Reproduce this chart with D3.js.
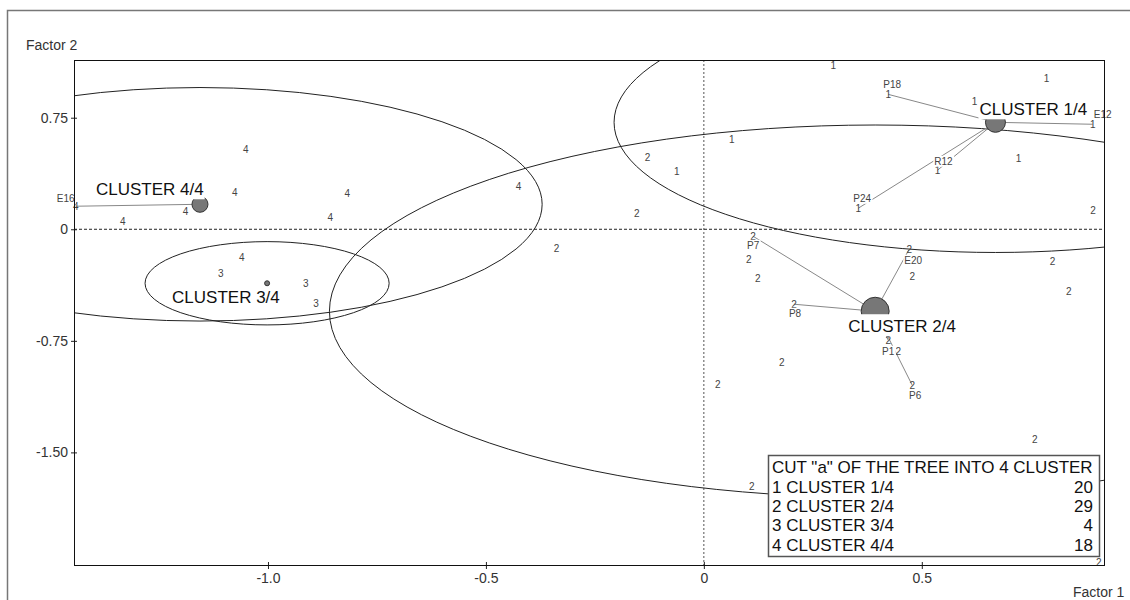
<!DOCTYPE html>
<html>
<head>
<meta charset="utf-8">
<script src="https://cdn.jsdelivr.net/npm/d3@7"></script>
<style>
  body { margin: 0; background: #fff; }
  text { font-family: "Liberation Sans", Arial, sans-serif; }
</style>
</head>
<body>
<div id="chart"></div>
<script>
// Define SVG area dimensions
var svgWidth = 1130;
var svgHeight = 600;

// chart margins
var margin = { top: 60, right: 26, bottom: 35, left: 74 };

var chartWidth = svgWidth - margin.left - margin.right;
var chartHeight = svgHeight - margin.top - margin.bottom;

// cluster data
var clusterIds = [1, 2, 3, 4];
var clusterNames = ["CLUSTER 1/4", "CLUSTER 2/4", "CLUSTER 3/4", "CLUSTER 4/4"];
var clusterCounts = [20, 29, 4, 18];
var clusterF1 = [0.669, 0.393, -1.002, -1.156];
var clusterF2 = [0.719, -0.551, -0.363, 0.168];
var clusterRadius = [0.875, 1.252, 0.28, 0.785];

// individual points (factor 1, factor 2, cluster, name)
var pointF1 = [0.297, 0.423, 0.621, 0.786, 0.892, 0.064, -0.062, 0.722, 0.536, 0.354,
    -0.129, -0.154, -0.338, 0.893, 0.113, 0.471, 0.103, 0.800, 0.124, 0.478,
    0.837, 0.207, 0.423, 0.446, 0.478, 0.179, 0.032, 0.759, 0.110, 0.906,
    -1.108, -0.913, -0.890,
    -1.051, -1.076, -0.818, -1.189, -1.333, -0.857, -0.425, -1.060, -1.441];
var pointF2 = [1.102, 0.907, 0.860, 1.015, 0.706, 0.605, 0.390, 0.477, 0.397, 0.141,
    0.484, 0.108, -0.128, 0.128, -0.047, -0.134, -0.202, -0.215, -0.329, -0.316,
    -0.417, -0.504, -0.746, -0.820, -1.048, -0.894, -1.042, -1.411, -1.727, -2.238,
    -0.296, -0.363, -0.497,
    0.538, 0.249, 0.242, 0.121, 0.054, 0.081, 0.289, -0.188, 0.155];
var pointCluster = [1, 1, 1, 1, 1, 1, 1, 1, 1, 1,
    2, 2, 2, 2, 2, 2, 2, 2, 2, 2,
    2, 2, 2, 2, 2, 2, 2, 2, 2, 2,
    3, 3, 3,
    4, 4, 4, 4, 4, 4, 4, 4, 4];
var pointName = ["", "P18", "", "", "E12", "", "", "", "R12", "P24",
    "", "", "", "", "P7", "E20", "", "", "", "",
    "", "P8", "P1", "", "P6", "", "", "", "", "",
    "", "", "",
    "", "", "", "", "", "", "", "", "E16"];

var xTickValues = [-1.0, -0.5, 0, 0.5];
var xTickLabels = ["-1.0", "-0.5", "0", "0.5"];
var yTickValues = [0.75, 0, -0.75, -1.5];
var yTickLabels = ["0.75", "0", "-0.75", "-1.50"];

var legendTitle = 'CUT "a" OF THE TREE INTO 4 CLUSTER';

// layout for labels (pixel offsets)
var nameOffset = {
    P18: [4, -10], E12: [10, -10], R12: [6, -9], P24: [4, -10], E16: [-10, -8],
    P7: [0, 9], E20: [4, 11], P8: [1, 9], P1: [0, 11], P6: [3, 10]
};
var markerSize = [10, 14, 2.5, 8];
var clusterLabelOffset = [[-16, -7], [-27, 21], [-95, 20], [-104, -9]];
var clusterLabelPadTop = [0, 4, 0, 0];

var points = pointF1.map(function (d, i) {
    return { f1: d, f2: pointF2[i], cluster: pointCluster[i], name: pointName[i] };
});
var clusters = clusterIds.map(function (id, i) {
    return { id: id, name: clusterNames[i], count: clusterCounts[i],
        f1: clusterF1[i], f2: clusterF2[i], r: clusterRadius[i] };
});

var svg = d3.select("#chart")
    .append("svg")
    .attr("width", svgWidth)
    .attr("height", svgHeight);

// outer frame
svg.append("rect")
    .attr("x", 7.5).attr("y", 10.5)
    .attr("width", 1200).attr("height", 700)
    .attr("fill", "none")
    .attr("stroke", "#777")
    .attr("stroke-width", 1.5);

var chartGroup = svg.append("g")
    .attr("transform", `translate(${margin.left}, ${margin.top})`);

var xScale = d3.scaleLinear().domain([-1.445, 0.918]).range([0, chartWidth]);
var yScale = d3.scaleLinear().domain([1.138, -2.257]).range([0, chartHeight]);

chartGroup.append("clipPath")
    .attr("id", "plotClip")
    .append("rect")
    .attr("width", chartWidth)
    .attr("height", chartHeight);

// zero lines
chartGroup.append("line")
    .attr("x1", xScale(0)).attr("x2", xScale(0))
    .attr("y1", 0).attr("y2", chartHeight)
    .attr("stroke", "#555")
    .attr("stroke-dasharray", "2,2");
chartGroup.append("line")
    .attr("x1", 0).attr("x2", chartWidth)
    .attr("y1", yScale(0)).attr("y2", yScale(0))
    .attr("stroke", "#222")
    .attr("stroke-dasharray", "3,2");

// cluster ellipses
chartGroup.append("g")
    .attr("clip-path", "url(#plotClip)")
    .selectAll("ellipse")
    .data(clusters)
    .enter()
    .append("ellipse")
    .attr("cx", d => xScale(d.f1))
    .attr("cy", d => yScale(d.f2))
    .attr("rx", d => xScale(d.f1 + d.r) - xScale(d.f1))
    .attr("ry", d => yScale(d.f2 - d.r) - yScale(d.f2))
    .attr("fill", "none")
    .attr("stroke", "#222")
    .attr("stroke-width", 1);

// lines from named points to cluster centre
var named = points.filter(d => d.name !== "");
chartGroup.append("g")
    .selectAll("line")
    .data(named)
    .enter()
    .append("line")
    .attr("x1", d => xScale(d.f1))
    .attr("y1", d => yScale(d.f2))
    .attr("x2", d => xScale(clusters[d.cluster - 1].f1))
    .attr("y2", d => yScale(clusters[d.cluster - 1].f2))
    .attr("stroke", "#888")
    .attr("stroke-width", 1);

// points drawn as their cluster number
chartGroup.append("g")
    .selectAll("text")
    .data(points)
    .enter()
    .append("text")
    .attr("x", d => xScale(d.f1))
    .attr("y", d => yScale(d.f2))
    .attr("dy", "0.35em")
    .attr("text-anchor", "middle")
    .attr("font-size", "10px")
    .attr("fill", "#444")
    .text(d => d.cluster);

// names with white background
var nameGroup = chartGroup.append("g");
named.forEach(function (d) {
    var off = nameOffset[d.name];
    var g = nameGroup.append("g");
    var t = g.append("text")
        .attr("x", xScale(d.f1) + off[0])
        .attr("y", yScale(d.f2) + off[1])
        .attr("dy", "0.35em")
        .attr("text-anchor", "middle")
        .attr("font-size", "10px")
        .attr("fill", "#444")
        .text(d.name);
    var bb = t.node().getBBox();
    g.insert("rect", "text")
        .attr("x", bb.x - 1).attr("y", bb.y)
        .attr("width", bb.width + 2).attr("height", bb.height)
        .attr("fill", "#fff");
});

// cluster markers
chartGroup.append("g")
    .selectAll("circle")
    .data(clusters)
    .enter()
    .append("circle")
    .attr("cx", d => xScale(d.f1))
    .attr("cy", d => yScale(d.f2))
    .attr("r", (d, i) => markerSize[i])
    .attr("fill", "#777")
    .attr("stroke", "#333")
    .attr("stroke-width", 1);

// cluster labels
clusters.forEach(function (d, i) {
    var g = chartGroup.append("g");
    var t = g.append("text")
        .attr("x", xScale(d.f1) + clusterLabelOffset[i][0])
        .attr("y", yScale(d.f2) + clusterLabelOffset[i][1])
        .attr("font-size", "17px")
        .attr("fill", "#111")
        .text(d.name);
    var bb = t.node().getBBox();
    var pad = clusterLabelPadTop[i];
    g.insert("rect", "text")
        .attr("x", bb.x - 1).attr("y", bb.y + 1 - pad)
        .attr("width", bb.width + 2).attr("height", bb.height - 1 + pad)
        .attr("fill", "#fff");
});

// axes
var leftAxis = d3.axisLeft(yScale)
    .tickValues(yTickValues)
    .tickFormat((d, i) => yTickLabels[i])
    .tickSize(3)
    .tickPadding(3);
var yAxis = chartGroup.append("g").call(leftAxis);
yAxis.select(".domain").remove();
yAxis.selectAll(".tick line").attr("x1", 3).attr("stroke", "#222");
yAxis.selectAll(".tick text")
    .attr("font-size", "14px")
    .attr("font-family", "Liberation Sans, Arial, sans-serif")
    .attr("fill", "#333");

var bottomAxis = d3.axisBottom(xScale)
    .tickValues(xTickValues)
    .tickFormat((d, i) => xTickLabels[i])
    .tickSize(4)
    .tickPadding(4);
var xAxis = chartGroup.append("g")
    .attr("transform", `translate(0, ${chartHeight})`)
    .call(bottomAxis);
xAxis.select(".domain").remove();
xAxis.selectAll(".tick line").attr("y1", -3).attr("stroke", "#222");
xAxis.selectAll(".tick text")
    .attr("font-size", "14px")
    .attr("font-family", "Liberation Sans, Arial, sans-serif")
    .attr("fill", "#333");

// plot frame
chartGroup.append("rect")
    .attr("x", 0.5).attr("y", 0.5)
    .attr("width", chartWidth).attr("height", chartHeight)
    .attr("fill", "none")
    .attr("stroke", "#111")
    .attr("stroke-width", 1);

// axis titles
svg.append("text")
    .attr("x", 26).attr("y", 50)
    .attr("font-size", "14px")
    .attr("fill", "#333")
    .text("Factor 2");
svg.append("text")
    .attr("x", 1073).attr("y", 597)
    .attr("font-size", "14px")
    .attr("fill", "#333")
    .text("Factor 1");

// legend box
var legend = svg.append("g").attr("transform", "translate(768, 455)");
legend.append("rect")
    .attr("x", 0.5).attr("y", 0.5)
    .attr("width", 331).attr("height", 101)
    .attr("fill", "#fff")
    .attr("stroke", "#555")
    .attr("stroke-width", 1.5);
legend.append("text")
    .attr("x", 4).attr("y", 18)
    .attr("font-size", "17px")
    .attr("fill", "#111")
    .text(legendTitle);
legend.selectAll(".row")
    .data(clusters)
    .enter()
    .append("text")
    .attr("x", 4)
    .attr("y", (d, i) => 38 + i * 19.2)
    .attr("font-size", "17px")
    .attr("fill", "#111")
    .text(d => d.id + " " + d.name);
legend.selectAll(".count")
    .data(clusters)
    .enter()
    .append("text")
    .attr("x", 325)
    .attr("y", (d, i) => 38 + i * 19.2)
    .attr("text-anchor", "end")
    .attr("font-size", "17px")
    .attr("fill", "#111")
    .text(d => d.count);
</script>
</body>
</html>
